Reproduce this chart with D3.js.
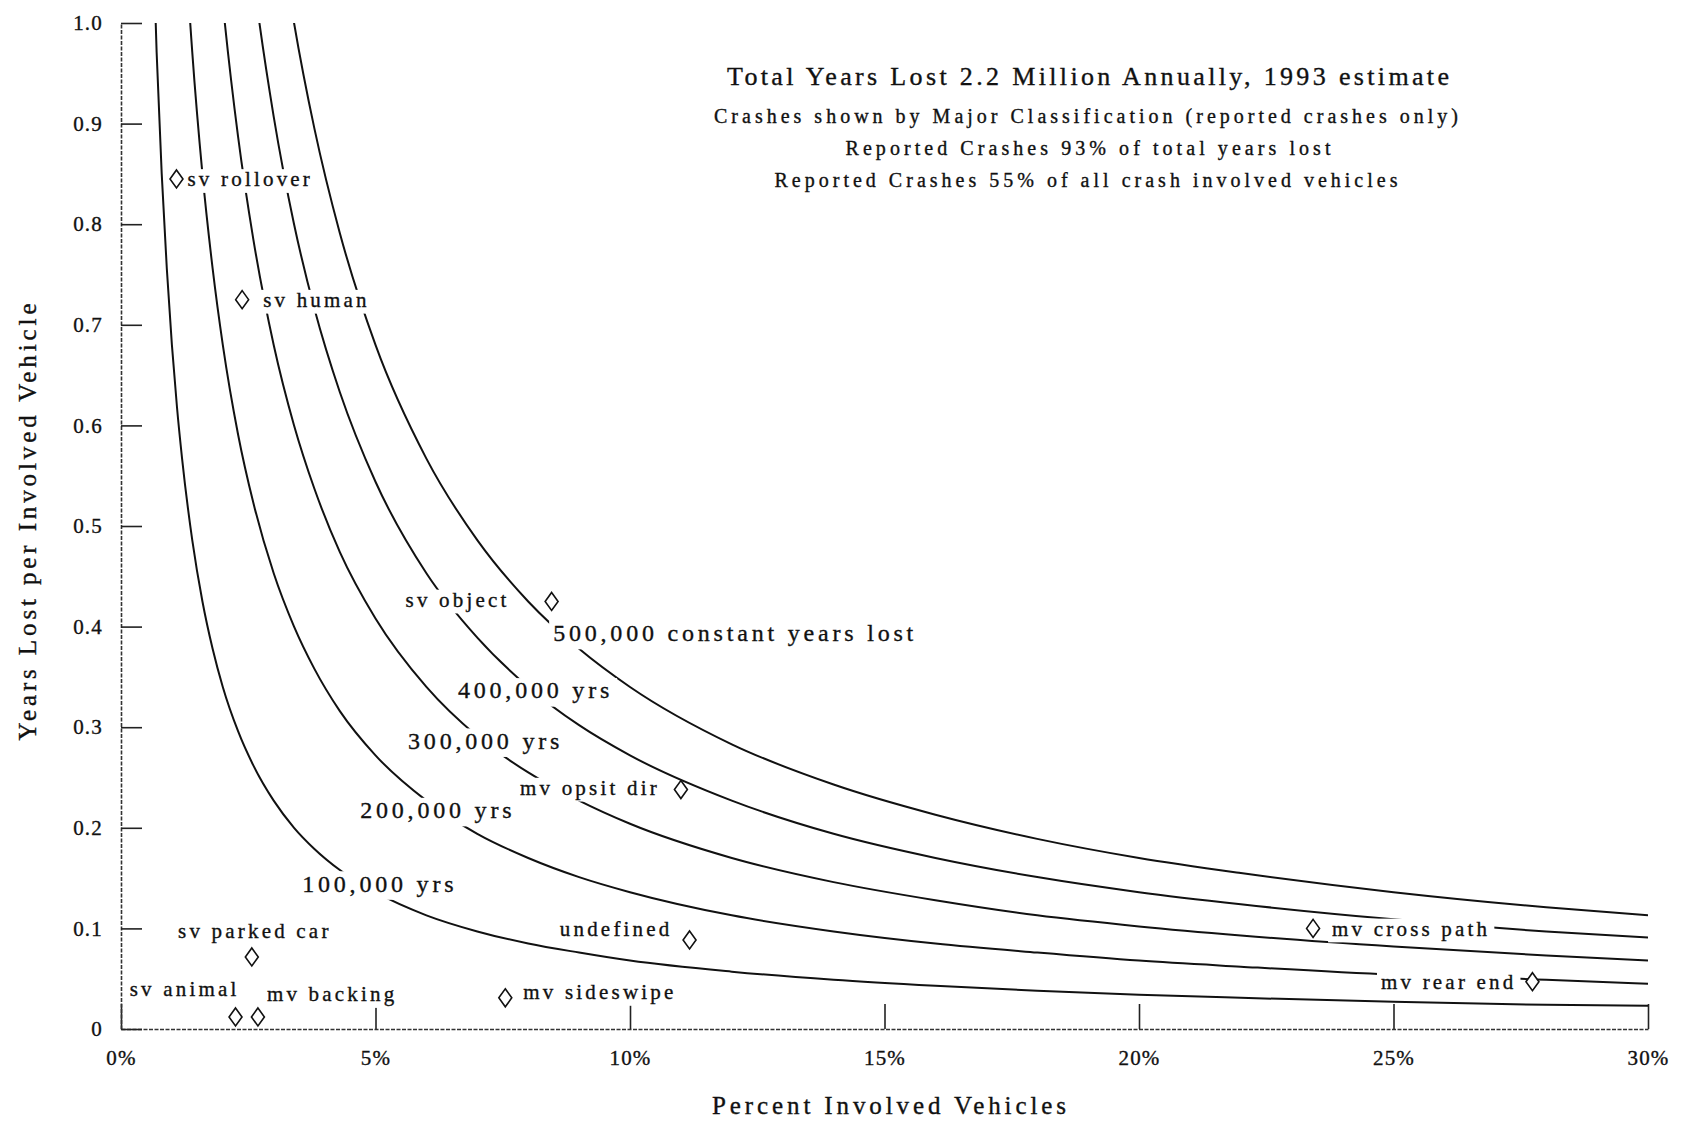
<!DOCTYPE html>
<html><head><meta charset="utf-8">
<script src="https://cdn.jsdelivr.net/npm/d3@7"></script>
<style>
html,body{margin:0;padding:0;background:#fff;}
svg{display:block;}
text{font-family:"Liberation Serif","Times New Roman",serif;fill:#111;stroke:#111;stroke-width:0.35px;}
</style></head><body>
<svg id="chart" width="1683" height="1123"></svg>
<script>
// ---------------- DATA ----------------
// percent of involved vehicles at which each constant-years-lost curve was read
const pctGrid = [0.6,0.7,0.8,0.9,1.0,1.1,1.2,1.4,1.6,1.8,2.0,2.3,2.6,3.0,3.4,3.8,4.3,5,6,7,8,9,10,12,14,16,18,20,22,25,28,30];
// years lost per involved vehicle along each curve (null = off the top of the chart)
const curve100k = [1.133,0.971,0.850,0.756,0.680,0.618,0.567,0.486,0.425,0.378,0.340,0.296,0.262,0.227,0.200,0.179,0.158,0.136,0.113,0.097,0.085,0.076,0.068,0.057,0.049,0.043,0.038,0.034,0.031,0.027,0.024,0.023];
const curve200k = [null,null,null,null,null,1.236,1.133,0.971,0.850,0.756,0.680,0.591,0.523,0.453,0.400,0.358,0.316,0.272,0.227,0.194,0.170,0.151,0.136,0.113,0.097,0.085,0.076,0.068,0.062,0.054,0.049,0.045];
const curve300k = [null,null,null,null,null,null,null,null,null,1.133,1.020,0.887,0.785,0.680,0.600,0.537,0.474,0.408,0.340,0.291,0.255,0.227,0.204,0.170,0.146,0.128,0.113,0.102,0.093,0.082,0.073,0.068];
const curve400k = [null,null,null,null,null,null,null,null,null,null,null,1.183,1.046,0.907,0.800,0.716,0.633,0.544,0.453,0.389,0.340,0.302,0.272,0.227,0.194,0.170,0.151,0.136,0.124,0.109,0.097,0.091];
const curve500k = [null,null,null,null,null,null,null,null,null,null,null,null,null,1.133,1.000,0.895,0.791,0.680,0.567,0.486,0.425,0.378,0.340,0.283,0.243,0.213,0.189,0.170,0.155,0.136,0.121,0.113];
const curveNames = ["100,000 yrs","200,000 yrs","300,000 yrs","400,000 yrs","500,000 constant years lost"];

// crash classifications (diamonds)
const crashTypes = ["sv rollover","sv human","sv object","mv opsit dir","undefined","mv sideswipe","sv parked car","sv animal","mv backing","mv cross path","mv rear end"];
const crashPct   = [1.09, 2.38, 8.46, 11.0, 11.17, 7.55, 2.57, 2.25, 2.69, 23.42, 27.73];
const crashYears = [0.845, 0.725, 0.425, 0.238, 0.0885, 0.031, 0.0716, 0.012, 0.012, 0.100, 0.047];

const xTicks = [0,5,10,15,20,25,30];
const yTicks = [0,0.1,0.2,0.3,0.4,0.5,0.6,0.7,0.8,0.9,1.0];
const titleLines = [
  "Total Years Lost 2.2 Million Annually, 1993 estimate",
  "Crashes shown by Major Classification (reported crashes only)",
  "Reported Crashes 93% of total years lost",
  "Reported Crashes 55% of all crash involved vehicles"
];
const xTitle = "Percent Involved Vehicles";
const yTitle = "Years Lost per Involved Vehicle";

// ---------------- LAYOUT ----------------
const svg = d3.select("#chart");
const x = d3.scaleLinear().domain([0,30]).range([121,1648]);
const y = d3.scaleLinear().domain([0,1]).range([1029,23]);

// label placement (data units for curve labels, pixel offsets for crash labels)
const curveLabelAt = [[3.56,0.145],[4.70,0.218],[5.64,0.287],[6.62,0.337],[8.49,0.394]];
const crashLabelLayout = {
  "sv rollover":  {dx:11, dy:0, anchor:"start"},
  "sv human":     {dx:21, dy:0, anchor:"start"},
  "sv object":    {dx:-42, dy:-2, anchor:"end"},
  "mv opsit dir": {dx:-21, dy:-2, anchor:"end"},
  "undefined":    {dx:-17, dy:-11, anchor:"end"},
  "mv sideswipe": {dx:18, dy:-6, anchor:"start"},
  "sv parked car":{dx:3, dy:-26, anchor:"middle"},
  "sv animal":    {dx:4, dy:-28, anchor:"end"},
  "mv backing":   {dx:9, dy:-23, anchor:"start"},
  "mv cross path":{dx:19, dy:0, anchor:"start"},
  "mv rear end":  {dx:-16, dy:0, anchor:"end"}
};

// clip to plot area
svg.append("defs").append("clipPath").attr("id","plot")
  .append("rect").attr("x",x(0)).attr("y",y(1)).attr("width",x(30)-x(0)).attr("height",y(0)-y(1));

// ---------------- AXES ----------------
const axisStyle = g => {
  g.select(".domain").attr("stroke","#333").attr("stroke-width",1.6).attr("stroke-dasharray","4,1.5");
  g.selectAll(".tick line").attr("stroke","#222").attr("stroke-width",1.6);
  g.selectAll(".tick text").attr("font-family","Liberation Serif").attr("font-size",21)
    .attr("letter-spacing",1.2).attr("fill","#111");
};
svg.append("g").attr("transform",`translate(0,${y(0)})`)
  .call(d3.axisBottom(x).tickValues(xTicks).tickSizeInner(-25).tickSizeOuter(0).tickPadding(21)
        .tickFormat(d => d + "%"))
  .call(axisStyle);
svg.append("g").attr("transform",`translate(${x(0)},0)`)
  .call(d3.axisLeft(y).tickValues(yTicks).tickSizeInner(-21).tickSizeOuter(0).tickPadding(18)
        .tickFormat(d => d === 0 ? "0" : d3.format(".1f")(d)))
  .call(axisStyle);

// ---------------- CURVES ----------------
const curves = [curve100k,curve200k,curve300k,curve400k,curve500k];
const line = d3.line()
  .defined(d => d[1] != null)
  .x(d => x(d[0])).y(d => y(d[1]))
  .curve(d3.curveMonotoneX);
const cg = svg.append("g").attr("clip-path","url(#plot)");
curves.forEach(vals => {
  cg.append("path")
    .attr("d", line(pctGrid.map((p,i) => [p, vals[i]])))
    .attr("fill","none").attr("stroke","#111").attr("stroke-width",2);
});

// ---------------- LABELS WITH WHITE BACKING ----------------
const lg = svg.append("g");
function haloText(px, py, str, size, ls, anchor, padX, padY) {
  const g = lg.append("g");
  const t = g.append("text").attr("x",px).attr("y",py).attr("dy","0.35em")
    .attr("text-anchor",anchor).attr("font-size",size).attr("letter-spacing",ls).text(str);
  const b = t.node().getBBox();
  const base = py + 0.35*size;
  g.insert("rect","text")
    .attr("x",b.x - padX).attr("width",b.width + 2*padX)
    .attr("y",base - 0.72*size - padY).attr("height",0.72*size + 0.22*size + 2*padY)
    .attr("fill","#fff").attr("stroke","none");
}
curveNames.forEach((n,i) => {
  haloText(x(curveLabelAt[i][0]), y(curveLabelAt[i][1]), n, 24, 3.8, "start", 4, 3);
});
crashTypes.forEach((n,i) => {
  const L = crashLabelLayout[n];
  haloText(x(crashPct[i]) + L.dx, y(crashYears[i]) + L.dy, n, 21, 3.2, L.anchor, 4, 2);
});

// ---------------- DIAMONDS ----------------
const tallDiamond = { draw(ctx, size) { const r = Math.sqrt(size); const w = r*0.36, h = r*0.5;
  ctx.moveTo(0,-h); ctx.lineTo(w,0); ctx.lineTo(0,h); ctx.lineTo(-w,0); ctx.closePath(); } };
svg.append("g").selectAll("path").data(crashTypes).join("path")
  .attr("transform",(d,i) => `translate(${x(crashPct[i])},${y(crashYears[i])})`)
  .attr("d", d3.symbol().type(tallDiamond).size(324)())
  .attr("fill","#fff").attr("stroke","#111").attr("stroke-width",1.6);

// ---------------- TITLES ----------------
const tg = svg.append("g").attr("text-anchor","middle");
const titleSpec = [[1088,85,26,722],[1086,123,20,744],[1088,155,20,485],[1086,187,20,623]];
titleLines.forEach((s,i) => {
  tg.append("text").attr("x",titleSpec[i][0]).attr("y",titleSpec[i][1])
    .attr("font-size",titleSpec[i][2]).attr("textLength",titleSpec[i][3])
    .attr("lengthAdjust","spacing").text(s);
});
svg.append("text").attr("x",889).attr("y",1114).attr("text-anchor","middle")
  .attr("font-size",25).attr("textLength",354).attr("lengthAdjust","spacing").text(xTitle);
svg.append("text").attr("transform","translate(36,522) rotate(-90)").attr("text-anchor","middle")
  .attr("font-size",25).attr("textLength",437).attr("lengthAdjust","spacing").text(yTitle);
</script>
</body></html>
